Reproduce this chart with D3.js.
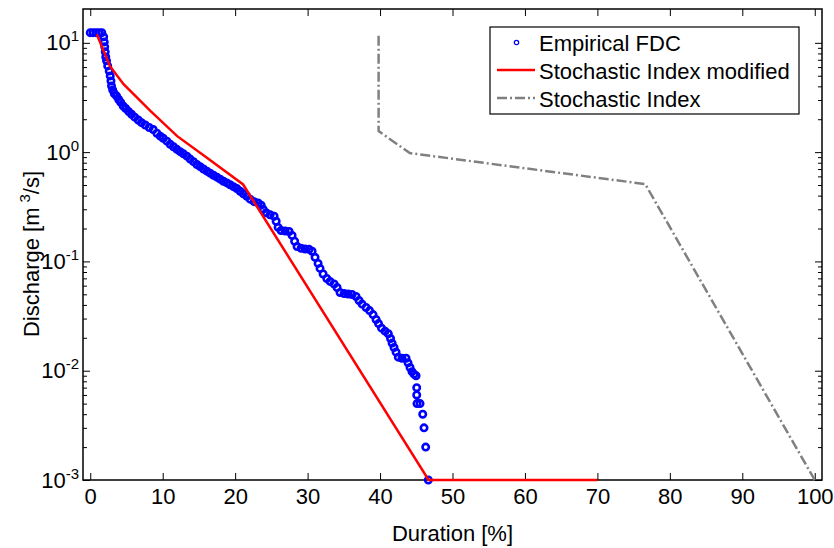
<!DOCTYPE html>
<html>
<head>
<meta charset="utf-8">
<script src="https://cdn.jsdelivr.net/npm/d3@7"></script>
<style>
  body { margin: 0; background: #fff; }
  text { font-family: "Liberation Sans", Arial, sans-serif; fill: #000; }
</style>
</head>
<body>
<svg id="chart" width="834" height="548"></svg>
<script>
// ---------------- data ----------------
// empirical flow duration curve: [duration %, discharge m3/s]
const empiricalFDC = [
  [0, 12.4], [0.4, 12.4], [0.8, 12.4], [1.2, 12.4], [1.6, 12.4],
  [1.86, 11.35], [1.93, 10.2], [2.0, 9.19], [2.07, 8.27], [2.14, 7.44],
  [2.25, 6.84], [2.41, 6.15], [2.62, 5.53], [2.76, 4.98], [2.86, 4.48],
  [2.94, 4.03], [3.10, 3.71], [3.31, 3.44], [3.63, 3.26], [3.93, 3.03],
  [4.21, 2.85], [4.55, 2.64], [4.90, 2.51], [5.31, 2.35], [5.70, 2.22],
  [6.14, 2.09], [6.62, 1.97], [7.08, 1.86], [7.59, 1.77], [8.14, 1.68],
  [8.69, 1.61], [9.20, 1.49], [9.66, 1.40], [10.07, 1.34], [10.58, 1.26],
  [11.03, 1.18], [11.49, 1.12], [11.96, 1.06], [12.41, 1.01], [12.87, 0.965],
  [13.34, 0.919], [13.79, 0.863], [14.25, 0.818], [14.72, 0.771], [15.17, 0.736],
  [15.63, 0.701], [16.10, 0.670], [16.55, 0.642], [17.01, 0.615], [17.48, 0.590],
  [17.93, 0.566], [18.39, 0.542], [18.86, 0.523], [19.31, 0.503], [19.77, 0.483],
  [20.23, 0.465], [20.69, 0.439], [21.14, 0.416], [21.61, 0.395], [22.07, 0.371],
  [22.62, 0.352], [23.17, 0.343], [23.59, 0.327], [23.86, 0.300], [24.28, 0.279],
  [24.83, 0.267], [25.38, 0.259], [25.66, 0.233], [25.93, 0.205], [26.34, 0.192],
  [26.90, 0.190], [27.45, 0.188], [27.86, 0.173], [28.21, 0.153], [28.55, 0.137],
  [29.10, 0.132], [29.66, 0.130], [30.21, 0.129], [30.62, 0.124], [31.03, 0.109],
  [31.45, 0.0959], [31.72, 0.0863], [32.14, 0.0768], [32.65, 0.0698], [33.10, 0.0656],
  [33.66, 0.0622], [34.07, 0.0577], [34.48, 0.0520], [35.03, 0.0508], [35.59, 0.0503],
  [36.14, 0.0498], [36.69, 0.0478], [37.10, 0.0439], [37.52, 0.0407], [38.07, 0.0379],
  [38.55, 0.0355], [39.03, 0.0326], [39.45, 0.0294], [39.79, 0.0270], [40.21, 0.0245],
  [40.69, 0.0230], [41.14, 0.0218], [41.45, 0.0197], [41.66, 0.0179], [41.93, 0.0163],
  [42.21, 0.0148], [42.52, 0.0133], [43.03, 0.0130], [43.59, 0.0130], [43.86, 0.0118],
  [44.14, 0.0107], [44.41, 0.0098], [44.69, 0.0093], [44.97, 0.009], [45.06, 0.007],
  [45.06, 0.006], [45.10, 0.005], [45.52, 0.005], [45.89, 0.004], [46.07, 0.003],
  [46.30, 0.002], [46.66, 0.001]
];

// stochastic index modified (red)
const modDuration  = [0.9, 2.7, 4.6, 8.3, 12.0, 16.1, 21.1, 46.7, 70];
const modDischarge = [12.0, 6.15, 4.18, 2.38, 1.40, 0.887, 0.506, 0.001, 0.001];

// stochastic index (grey dash-dot)
const siDuration  = [39.8, 39.8, 44.1, 76.6, 100];
const siDischarge = [11.6, 1.56, 0.98, 0.51, 0.001];

const xTicks = [0, 10, 20, 30, 40, 50, 60, 70, 80, 90, 100];
const yExponents = [-3, -2, -1, 0, 1];
const legendLabels = ["Empirical FDC", "Stochastic Index modified", "Stochastic Index"];

// ---------------- layout ----------------
const plotLeft = 83, plotRight = 822, plotTop = 9, plotBottom = 480;
const fs = 22;
const svg = d3.select("#chart");

var x = d3.scaleLinear().domain([-1, 101]).range([plotLeft, plotRight]);
var y = d3.scaleLog().domain([0.001, 20.4]).range([plotBottom, plotTop]);

// minor log ticks 2..9 per decade
var minors = [];
yExponents.slice(0, 4).forEach(function(e) {
  for (var k = 2; k <= 9; k++) minors.push(k * Math.pow(10, e));
});
var majors = yExponents.map(e => Math.pow(10, e));

function clean(g) {
  g.select(".domain").remove();
  g.selectAll(".tick line").attr("stroke", "#000").attr("stroke-width", 1);
}

// bottom axis, ticks pointing inward
svg.append("g")
  .attr("transform", "translate(0," + plotBottom + ")")
  .call(d3.axisBottom(x).tickValues(xTicks).tickSizeInner(-7).tickSizeOuter(0).tickPadding(8))
  .call(clean)
  .call(g => g.selectAll("text")
    .attr("font-size", fs).attr("font-family", "Liberation Sans, Arial, sans-serif").attr("fill", "#000"));

svg.append("g")
  .attr("transform", "translate(0," + plotTop + ")")
  .call(d3.axisTop(x).tickValues(xTicks).tickSizeInner(-7).tickSizeOuter(0).tickFormat(""))
  .call(clean);

svg.append("g")
  .attr("transform", "translate(" + plotLeft + ",0)")
  .call(d3.axisLeft(y).tickValues(majors).tickSizeInner(-7).tickSizeOuter(0).tickFormat(""))
  .call(clean);
svg.append("g")
  .attr("transform", "translate(" + plotLeft + ",0)")
  .call(d3.axisLeft(y).tickValues(minors).tickSizeInner(-4).tickSizeOuter(0).tickFormat(""))
  .call(clean);
svg.append("g")
  .attr("transform", "translate(" + plotRight + ",0)")
  .call(d3.axisRight(y).tickValues(majors).tickSizeInner(-7).tickSizeOuter(0).tickFormat(""))
  .call(clean);
svg.append("g")
  .attr("transform", "translate(" + plotRight + ",0)")
  .call(d3.axisRight(y).tickValues(minors).tickSizeInner(-4).tickSizeOuter(0).tickFormat(""))
  .call(clean);

// y tick labels as 10^n
var yLab = svg.append("g").selectAll("text")
  .data(yExponents)
  .enter().append("text")
  .attr("x", 79)
  .attr("y", d => y(Math.pow(10, d)) + 7.5)
  .attr("text-anchor", "end")
  .attr("font-size", fs);
yLab.append("tspan").text("10");
yLab.append("tspan").attr("font-size", 15).attr("dy", -9).text(d => d);

// box
svg.append("rect")
  .attr("x", plotLeft).attr("y", plotTop)
  .attr("width", plotRight - plotLeft).attr("height", plotBottom - plotTop)
  .attr("fill", "none").attr("stroke", "#000").attr("stroke-width", 1.5);

// axis titles
svg.append("text")
  .attr("x", (plotLeft + plotRight) / 2).attr("y", 541)
  .attr("text-anchor", "middle").attr("font-size", fs)
  .text("Duration [%]");

var yt = svg.append("text")
  .attr("transform", "translate(38.5,254) rotate(-90)")
  .attr("text-anchor", "middle").attr("font-size", fs);
yt.append("tspan").text("Discharge [m");
yt.append("tspan").attr("font-size", 15).attr("dx", 5).attr("dy", -9).text("3");
yt.append("tspan").attr("dy", 9).text("/s]");

// ---------------- series ----------------
svg.append("g").selectAll("circle")
  .data(empiricalFDC)
  .enter().append("circle")
  .attr("cx", d => x(d[0]))
  .attr("cy", d => y(d[1]))
  .attr("r", 3.2)
  .attr("fill", "none")
  .attr("stroke", "#0000ff")
  .attr("stroke-width", 2.6);

var line = d3.line().x(d => x(d[0])).y(d => y(d[1]));

svg.append("path")
  .datum(d3.zip(modDuration, modDischarge))
  .attr("d", line)
  .attr("fill", "none")
  .attr("stroke", "#ff0000")
  .attr("stroke-width", 2.5);

svg.append("path")
  .datum(d3.zip(siDuration, siDischarge))
  .attr("d", line)
  .attr("fill", "none")
  .attr("stroke", "#808080")
  .attr("stroke-width", 2.5)
  .attr("stroke-dasharray", "10,3,2,3");

// ---------------- legend ----------------
var lg = svg.append("g");
lg.append("rect")
  .attr("x", 490).attr("y", 27)
  .attr("width", 309).attr("height", 87)
  .attr("fill", "#fff").attr("stroke", "#000").attr("stroke-width", 1.2);

lg.selectAll("text.leg")
  .data(legendLabels)
  .enter().append("text")
  .attr("class", "leg")
  .attr("x", 539)
  .attr("y", (d, i) => 50.5 + i * 28)
  .attr("font-size", fs)
  .text(d => d);

lg.append("circle")
  .attr("cx", 516.5).attr("cy", 42.5).attr("r", 2.2)
  .attr("fill", "none").attr("stroke", "#0000ff").attr("stroke-width", 1.2);
lg.append("line")
  .attr("x1", 497).attr("x2", 535).attr("y1", 70).attr("y2", 70)
  .attr("stroke", "#ff0000").attr("stroke-width", 2.5);
lg.append("line")
  .attr("x1", 497).attr("x2", 535).attr("y1", 98).attr("y2", 98)
  .attr("stroke", "#808080").attr("stroke-width", 2.5)
  .attr("stroke-dasharray", "10,3,2,3");
</script>
</body>
</html>
